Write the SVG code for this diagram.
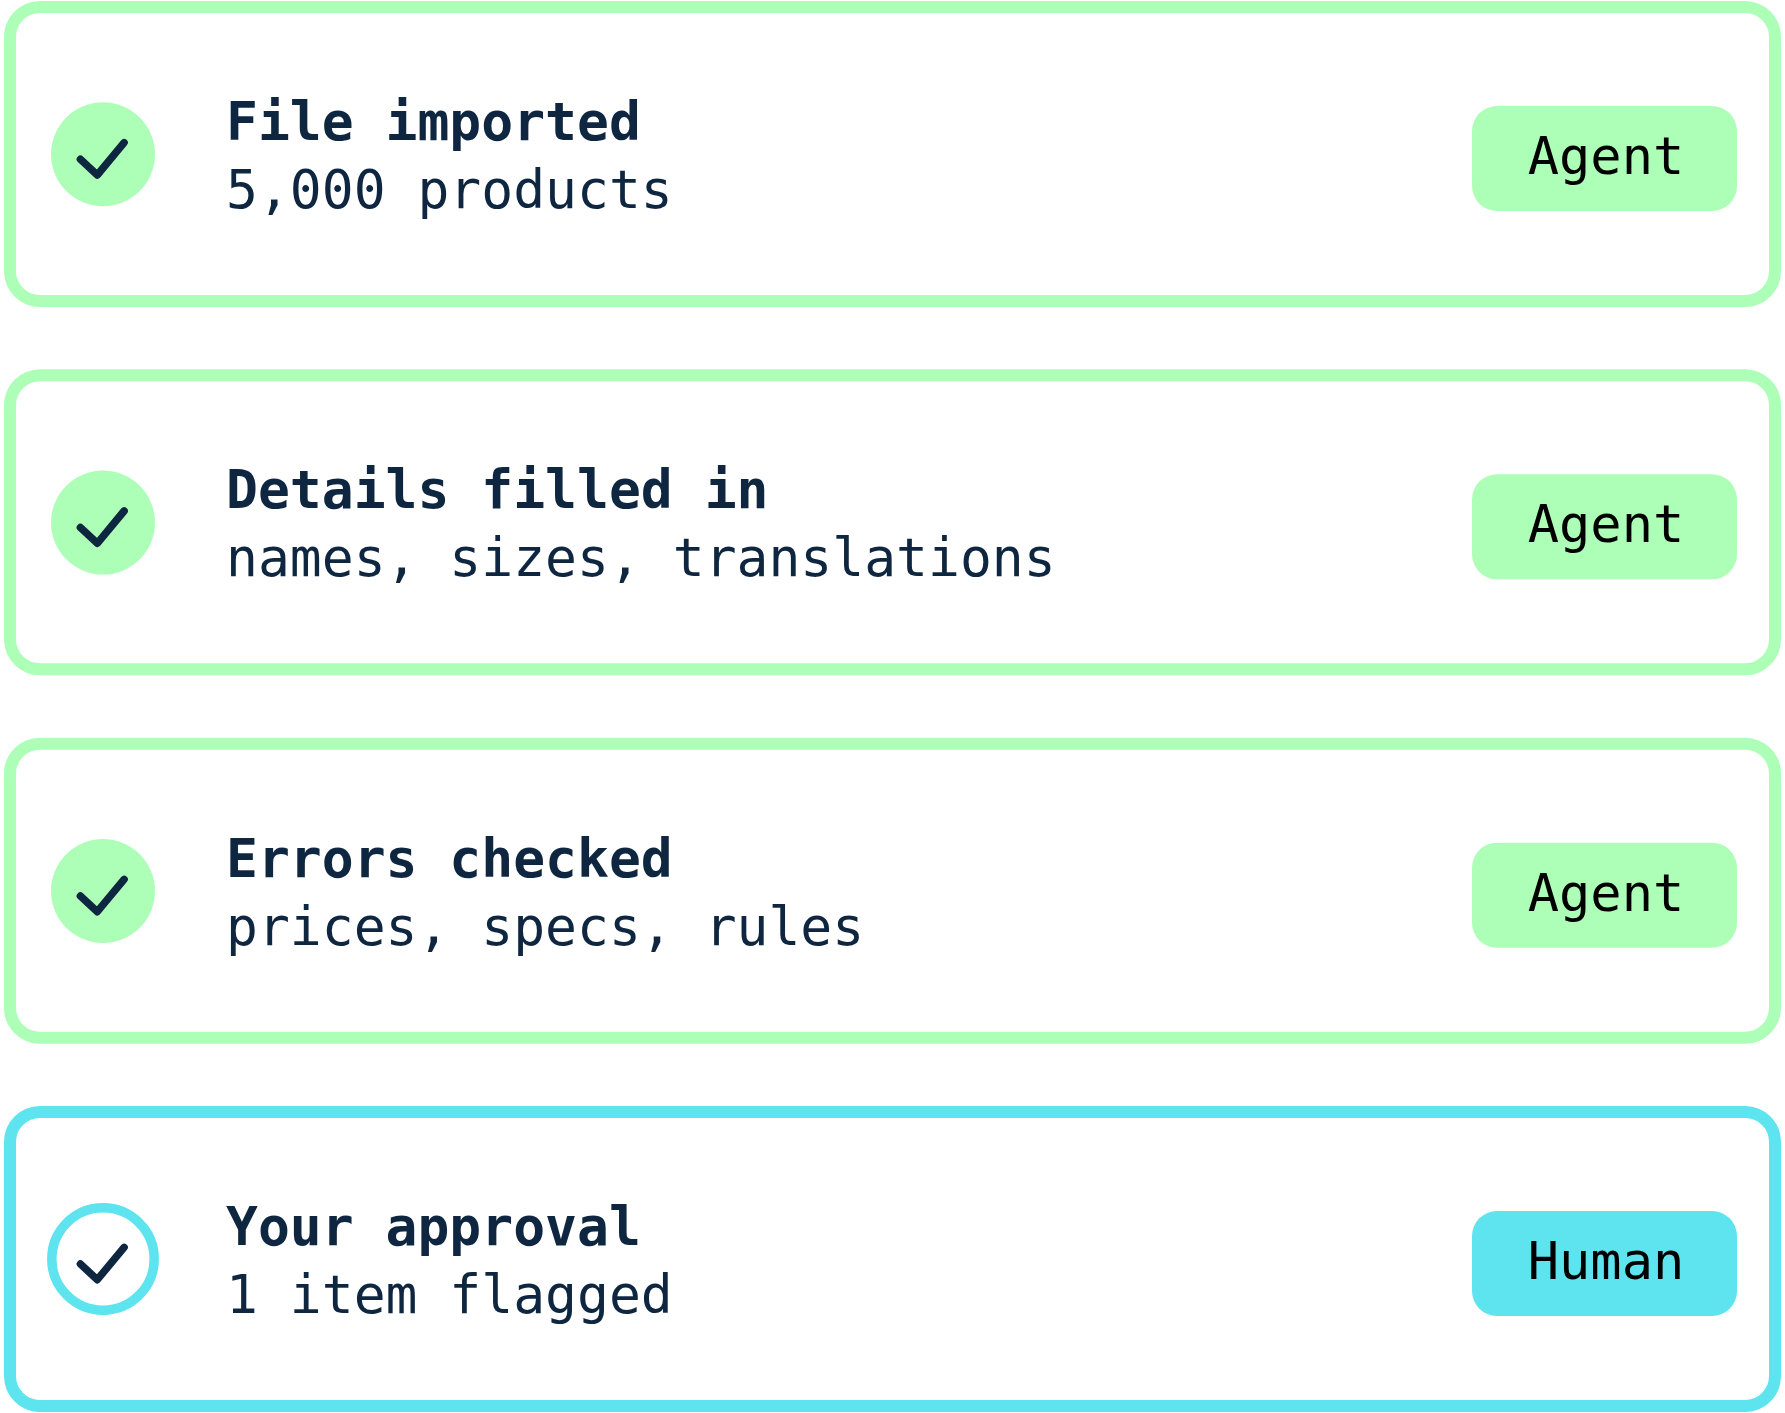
<svg xmlns="http://www.w3.org/2000/svg" width="1785" height="1413" viewBox="0 0 1785 1413">
<style>
.card{fill:#ffffff;stroke-width:12}
.g{stroke:#adffb7}
.c{stroke:#5de4ee}
.dot{fill:#adffb7}
.ring{fill:#ffffff;stroke:#5de4ee;stroke-width:9.5}
.tick{fill:none;stroke:#0e2640;stroke-width:7.5;stroke-linecap:round;stroke-linejoin:round}
.title{font-family:"DejaVu Sans Mono","Liberation Mono",monospace;font-weight:bold;font-size:53px;fill:#0e2640}
.sub{font-family:"DejaVu Sans Mono","Liberation Mono",monospace;font-size:53px;fill:#0e2640}
.badge-g{fill:#adffb7}
.badge-c{fill:#5de4ee}
.btxt{font-family:"DejaVu Sans Mono","Liberation Mono",monospace;font-size:52px;fill:#000000;text-anchor:middle}
</style>
<g id="card1">
<rect class="card g" x="10" y="7" width="1765" height="294" rx="30"/>
<circle class="dot" cx="103" cy="154.3" r="52"/>
<polyline class="tick" points="80.4,159.3 97.3,175 124.1,142.7"/>
<text class="title" x="226" y="140">File imported</text>
<text class="sub" x="226" y="208">5,000 products</text>
<rect class="badge-g" x="1472" y="106" width="265" height="105" rx="25"/>
<text class="btxt" x="1606" y="174">Agent</text>
</g>
<g id="card2">
<rect class="card g" x="10" y="375.3" width="1765" height="294" rx="30"/>
<circle class="dot" cx="103" cy="522.6" r="52"/>
<polyline class="tick" points="80.4,527.6 97.3,543.3 124.1,511"/>
<text class="title" x="226" y="508.3">Details filled in</text>
<text class="sub" x="226" y="576.3">names, sizes, translations</text>
<rect class="badge-g" x="1472" y="474.3" width="265" height="105" rx="25"/>
<text class="btxt" x="1606" y="542.3">Agent</text>
</g>
<g id="card3">
<rect class="card g" x="10" y="743.7" width="1765" height="294" rx="30"/>
<circle class="dot" cx="103" cy="891" r="52"/>
<polyline class="tick" points="80.4,896 97.3,911.7 124.1,879.4"/>
<text class="title" x="226" y="876.7">Errors checked</text>
<text class="sub" x="226" y="944.7">prices, specs, rules</text>
<rect class="badge-g" x="1472" y="842.7" width="265" height="105" rx="25"/>
<text class="btxt" x="1606" y="910.7">Agent</text>
</g>
<g id="card4">
<rect class="card c" x="10" y="1112" width="1765" height="294" rx="30"/>
<circle class="ring" cx="103" cy="1259" r="51.2"/>
<polyline class="tick" points="80.4,1264 97.3,1279.7 124.1,1247.4"/>
<text class="title" x="226" y="1245">Your approval</text>
<text class="sub" x="226" y="1313">1 item flagged</text>
<rect class="badge-c" x="1472" y="1211" width="265" height="105" rx="25"/>
<text class="btxt" x="1606" y="1279">Human</text>
</g>
<g id="connectors"/>
</svg>
